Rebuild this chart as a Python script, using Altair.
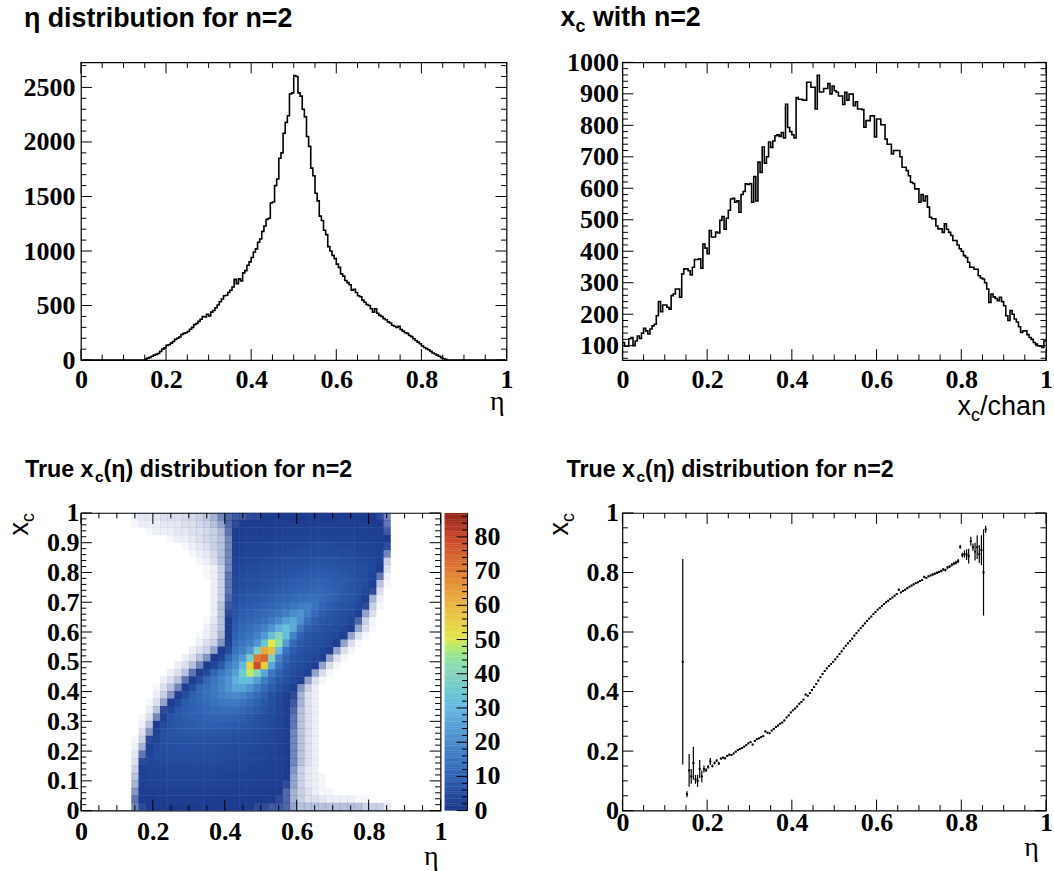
import math
import altair as alt
import pandas as pd

# ---------------------------------------------------------------- data
BIN = 0.005  # histogram bin width (eta and x_c)

# eta histogram: counts per bin, first non-empty bin starts at 0.150
eta_first_edge = 0.150
eta_counts = [8, 18, 25, 35, 45, 52, 60, 80, 100, 112,
              135, 140, 155, 170, 190, 200, 212, 235, 245, 250,
              262, 282, 300, 325, 335, 355, 375, 400, 395, 420,
              405, 440, 455, 480, 505, 535, 560, 590, 595, 620,
              640, 670, 740, 700, 745, 725, 800, 820, 870, 900,
              940, 990, 1020, 1080, 1110, 1180, 1230, 1290, 1300, 1440,
              1450, 1600, 1660, 1850, 1900, 2080, 2180, 2240, 2440, 2450,
              2610, 2600, 2450, 2420, 2300, 2230, 2050, 1960, 1760, 1690,
              1530, 1460, 1320, 1280, 1190, 1150, 1040, 1000, 960, 930,
              880, 850, 790, 770, 730, 710, 690, 640, 650, 620,
              590, 580, 550, 530, 510, 500, 470, 440, 470, 430,
              410, 400, 380, 370, 350, 340, 320, 310, 300, 310,
              280, 265, 250, 245, 225, 215, 195, 180, 165, 150,
              130, 115, 105, 95, 80, 65, 55, 45, 35, 22,
              12, 6]

# x_c histogram: 200 bins from 0 to 1
xc_counts = [110, 98, 98, 122, 126, 100, 115, 131, 123, 140,
             155, 147, 137, 153, 163, 168, 195, 240, 208, 229,
             229, 222, 216, 259, 264, 280, 280, 254, 328, 344,
             344, 338, 325, 349, 374, 374, 376, 346, 423, 410,
             392, 466, 445, 445, 461, 458, 498, 510, 470, 505,
             530, 566, 568, 556, 560, 524, 580, 590, 614, 612,
             615, 556, 637, 560, 683, 650, 731, 680, 700, 747,
             730, 750, 767, 770, 765, 777, 760, 867, 793, 780,
             770, 760, 888, 883, 883, 880, 880, 937, 937, 921,
             921, 852, 959, 906, 906, 917, 917, 933, 900, 925,
             910, 905, 893, 893, 866, 905, 880, 899, 899, 862,
             875, 852, 852, 850, 794, 815, 815, 830, 830, 763,
             820, 820, 802, 802, 756, 740, 740, 709, 720, 720,
             720, 700, 667, 667, 656, 640, 619, 615, 598, 598,
             556, 580, 560, 575, 540, 508, 503, 503, 480, 471,
             471, 460, 487, 470, 460, 450, 434, 434, 420, 408,
             400, 386, 380, 365, 349, 349, 343, 343, 322, 315,
             312, 300, 280, 237, 264, 255, 250, 243, 254, 240,
             227, 195, 180, 212, 200, 185, 175, 160, 142, 147,
             147, 135, 126, 120, 110, 105, 100, 98, 94, 115]

# profile <x_c>(eta): bin centres start at 0.1425, one per eta bin
prof_first_center = 0.1425
prof_mean = [0.50, None, 0.055, 0.135, 0.115, 0.160, 0.105, 0.100, 0.140, 0.115,
             0.140, 0.136, 0.147, 0.165, 0.150, 0.160, 0.168, 0.158, 0.175, 0.178,
             0.176, 0.184, 0.188, 0.187, 0.192, 0.198, 0.203, 0.207, 0.210, 0.215,
             0.220, 0.226, 0.230, 0.222, 0.234, 0.240, 0.243, 0.247, 0.250, 0.266,
             0.262, 0.260, 0.269, 0.275, 0.281, 0.286, 0.292, 0.296, 0.303, 0.313,
             0.320, 0.330, 0.337, 0.343, 0.350, 0.359, 0.365, 0.373, 0.390, 0.386,
             0.395, 0.405, 0.415, 0.425, 0.437, 0.448, 0.459, 0.469, 0.478, 0.486,
             0.493, 0.500, 0.508, 0.517, 0.526, 0.535, 0.545, 0.554, 0.562, 0.570,
             0.578, 0.588, 0.596, 0.605, 0.613, 0.621, 0.629, 0.637, 0.645, 0.652,
             0.660, 0.667, 0.675, 0.681, 0.688, 0.694, 0.700, 0.705, 0.711, 0.716,
             0.722, 0.728, 0.742, 0.733, 0.738, 0.742, 0.747, 0.752, 0.756, 0.760,
             0.764, 0.767, 0.771, 0.775, 0.785, 0.782, 0.787, 0.790, 0.793, 0.796,
             0.799, 0.802, 0.805, 0.810, 0.808, 0.817, 0.820, 0.826, 0.830, 0.833,
             0.838, 0.886, 0.858, 0.862, 0.860, 0.855, 0.905, 0.885, 0.870, 0.885,
             0.862, 0.875, 0.800, 0.945]
prof_err = [0.345, None, 0.010, 0.055, 0.025, 0.055, 0.015, 0.020, 0.030, 0.020,
            0.012, 0.006, 0.006, 0.012, 0.005, 0.005, 0.005, 0.005, 0.004, 0.004,
            0.004, 0.004, 0.004, 0.003, 0.003, 0.003, 0.003, 0.003, 0.003, 0.003,
            0.003, 0.003, 0.003, 0.003, 0.003, 0.003, 0.003, 0.003, 0.003, 0.003,
            0.003, 0.003, 0.003, 0.003, 0.003, 0.003, 0.003, 0.003, 0.003, 0.003,
            0.003, 0.003, 0.003, 0.003, 0.003, 0.003, 0.003, 0.003, 0.003, 0.003,
            0.003, 0.003, 0.003, 0.003, 0.003, 0.003, 0.003, 0.003, 0.003, 0.003,
            0.003, 0.003, 0.003, 0.003, 0.003, 0.003, 0.003, 0.003, 0.003, 0.003,
            0.003, 0.003, 0.003, 0.003, 0.003, 0.003, 0.003, 0.003, 0.003, 0.003,
            0.003, 0.003, 0.003, 0.003, 0.003, 0.003, 0.003, 0.003, 0.003, 0.003,
            0.003, 0.003, 0.004, 0.003, 0.003, 0.003, 0.003, 0.003, 0.003, 0.003,
            0.003, 0.003, 0.003, 0.003, 0.004, 0.003, 0.003, 0.003, 0.004, 0.004,
            0.004, 0.004, 0.004, 0.005, 0.005, 0.005, 0.005, 0.006, 0.006, 0.006,
            0.007, 0.006, 0.008, 0.012, 0.018, 0.025, 0.015, 0.012, 0.030, 0.040,
            0.030, 0.050, 0.145, 0.012]

# 2-D histogram x_c(eta): mean content per fine cell, coarse cells
heat_eta0 = 0.14
heat_eta_step = 0.02
heat_xc_step = 0.025
heat_rows = [  # bottom (x_c ~ 0) to top (x_c ~ 1); columns eta 0.14 .. 0.86
    [0.8,1.2,1.3,1.3,1.4,1.4,1.4,1.4,1.4,1.4, 1.4,1.4,1.4,1.3,1.3,1.3,1.3,1.2,1.2,1.1, 1.1,1.0,0.6,0.4,0.4,0.4,0.4,0.4,0.4,0.4, 0.4,0.4,0.3,0.3,0.3,0.15],
    [0.9,1.5,1.6,1.6,1.7,1.7,1.7,1.7,1.7,1.7, 1.6,1.6,1.6,1.5,1.5,1.5,1.4,1.4,1.3,1.3, 1.2,1.0,0.5,0.3,0.2,0.2,0.15,0.1,0.1,0.1, 0.1,0.05,0.05,0,0,0],
    [0.7,1.7,1.8,1.9,1.9,2.0,2.0,2.0,2.0,2.0, 1.9,1.9,1.9,1.8,1.8,1.7,1.7,1.6,1.5,1.4, 1.3,1.0,0.5,0.3,0.2,0.1,0.05,0.05,0,0, 0,0,0,0,0,0],
    [0.5,2.2,2.6,2.8,2.9,3.0,3.0,3.0,3.0,2.9, 2.9,2.8,2.7,2.6,2.5,2.4,2.3,2.2,2.1,1.9, 1.7,1.2,0.6,0.3,0.15,0.1,0.05,0,0,0, 0,0,0,0,0,0],
    [0.4,2.4,2.9,3.1,3.2,3.3,3.3,3.3,3.3,3.2, 3.2,3.1,3.0,2.9,2.8,2.7,2.6,2.5,2.3,2.1, 1.8,1.3,0.6,0.3,0.15,0.1,0.05,0,0,0, 0,0,0,0,0,0],
    [0.3,2.3,3.2,3.5,3.7,3.8,3.8,3.8,3.8,3.7, 3.6,3.5,3.4,3.3,3.2,3.1,3.0,2.8,2.6,2.3, 2.0,1.4,0.7,0.3,0.15,0.1,0,0,0,0, 0,0,0,0,0,0],
    [0.2,1.2,3.4,4.1,4.4,4.6,4.7,4.7,4.7,4.6, 4.5,4.4,4.3,4.1,3.9,3.7,3.5,3.3,3.0,2.7, 2.3,1.5,0.8,0.4,0.2,0.1,0,0,0,0, 0,0,0,0,0,0],
    [0.15,0.9,3.2,4.5,4.9,5.1,5.2,5.2,5.2,5.1, 5.0,4.9,4.7,4.5,4.3,4.1,3.9,3.6,3.3,2.9, 2.5,1.6,0.8,0.4,0.2,0.1,0,0,0,0, 0,0,0,0,0,0],
    [0.1,0.5,2.2,4.6,5.3,5.6,5.8,5.9,5.9,5.8, 5.7,5.5,5.3,5.1,4.8,4.5,4.2,3.9,3.6,3.1, 2.6,1.6,0.8,0.4,0.2,0.1,0,0,0,0, 0,0,0,0,0,0],
    [0.05,0.3,1.2,3.6,5.6,6.1,6.4,6.5,6.6,6.6, 6.5,6.3,6.1,5.8,5.5,5.1,4.7,4.3,3.9,3.3, 2.7,1.6,0.8,0.4,0.2,0.1,0,0,0,0, 0,0,0,0,0,0],
    [0,0.2,0.7,2.6,5.6,6.6,7.1,7.3,7.5,7.6, 7.6,7.5,7.2,6.9,6.5,6.0,5.5,5.0,4.4,3.7, 2.9,1.7,0.8,0.4,0.2,0.1,0,0,0,0, 0,0,0,0,0,0],
    [0,0.1,0.4,1.4,4.2,6.8,7.6,8.0,8.3,8.6, 8.8,8.9,8.8,8.5,8.0,7.3,6.6,5.8,5.0,4.1, 3.1,1.8,0.9,0.4,0.2,0.1,0,0,0,0, 0,0,0,0,0,0],
    [0,0.05,0.2,0.8,2.8,6.2,7.8,8.4,8.9,9.4, 9.9,10.3,10.4,10.1,9.5,8.6,7.6,6.6,5.5,4.4, 3.2,1.9,0.9,0.4,0.2,0.1,0,0,0,0, 0,0,0,0,0,0],
    [0,0,0.1,0.4,1.2,3.8,7.4,8.6,9.4,10.2, 11.0,11.8,12.5,12.8,12.3,11.1,9.6,8.0,6.5,5.0, 3.5,2.0,1.0,0.4,0.2,0.1,0,0,0,0, 0,0,0,0,0,0],
    [0,0,0.05,0.2,0.6,1.6,4.6,8.4,9.6,10.8, 12.0,13.3,14.8,15.8,15.6,14.2,12.1,9.8,7.6,5.6, 3.9,2.2,1.1,0.5,0.2,0.1,0,0,0,0, 0,0,0,0,0,0],
    [0,0,0,0.1,0.3,0.7,1.8,5.0,9.4,11.2, 13.0,15.0,17.2,19.2,19.8,18.2,15.2,11.9,8.9,6.3, 4.3,2.5,1.2,0.5,0.2,0.1,0,0,0,0, 0,0,0,0,0,0],
    [0,0,0,0.05,0.2,0.4,0.8,2.0,5.5,10.8, 13.0,15.5,18.5,22.0,25.5,25.5,21.5,16.5,12.0,8.5, 6.0,4.2,2.2,0.7,0.3,0.1,0,0,0,0, 0,0,0,0,0,0],
    [0,0,0,0,0.1,0.2,0.4,0.9,2.2,5.2, 11.0,14.6,17.8,22.0,28.0,33.0,31.5,24.5,16.5,11.0, 7.5,5.5,4.0,2.0,0.6,0.2,0.05,0,0,0, 0,0,0,0,0,0],
    [0,0,0,0,0,0.1,0.2,0.4,0.9,2.0, 4.5,10.5,15.5,19.5,25.0,36.0,48.0,41.0,26.0,15.0, 9.5,6.8,5.2,3.8,2.2,0.6,0.2,0.05,0,0, 0,0,0,0,0,0],
    [0,0,0,0,0,0,0.1,0.2,0.4,0.8, 1.6,3.6,8.0,16.0,21.0,30.0,54.0,78.0,56.0,26.0, 14.0,8.5,6.2,5.0,3.8,2.0,0.6,0.2,0.05,0, 0,0,0,0,0,0],
    [0,0,0,0,0,0,0,0.1,0.2,0.4, 0.7,1.4,3.2,11.0,17.5,23.0,37.0,70.0,74.0,39.0, 18.0,10.0,7.0,5.5,4.6,3.8,2.0,0.6,0.2,0.05, 0,0,0,0,0,0],
    [0,0,0,0,0,0,0,0,0.1,0.2, 0.3,0.6,1.4,5.0,14.0,17.0,22.0,38.0,62.0,58.0, 30.0,14.0,8.5,6.5,5.2,4.5,3.8,2.0,0.6,0.2, 0.05,0,0,0,0,0],
    [0,0,0,0,0,0,0,0,0,0.1, 0.2,0.3,0.7,2.4,11.5,14.5,17.0,22.0,34.0,50.0, 44.0,24.0,12.0,8.0,6.2,5.2,4.6,3.8,2.0,0.6, 0.2,0.05,0,0,0,0],
    [0,0,0,0,0,0,0,0,0,0.05, 0.1,0.2,0.5,1.8,10.0,12.5,14.5,17.5,23.0,32.0, 40.0,33.0,18.0,10.0,7.2,6.0,5.2,4.6,3.8,2.0, 0.6,0.2,0.05,0,0,0],
    [0,0,0,0,0,0,0,0,0,0, 0.1,0.2,0.4,1.5,8.8,11.0,12.8,14.8,17.5,22.0, 28.0,33.0,27.0,15.0,9.5,7.6,6.6,5.8,5.0,4.0, 2.0,0.6,0.2,0.05,0,0],
    [0,0,0,0,0,0,0,0,0,0, 0.05,0.15,0.4,1.3,7.8,9.5,10.8,12.0,13.5,16.0, 19.5,24.0,27.0,21.0,13.0,9.0,7.5,6.6,5.8,5.0, 3.6,1.0,0.3,0.05,0,0],
    [0,0,0,0,0,0,0,0,0,0, 0,0.1,0.4,1.2,7.0,8.4,9.4,10.4,11.5,12.8, 14.5,17.0,20.0,22.0,17.0,11.5,8.8,7.6,6.6,5.8, 4.8,2.6,0.6,0.2,0,0],
    [0,0,0,0,0,0,0,0,0,0, 0,0.1,0.4,1.1,6.2,7.4,8.2,9.0,9.8,10.8, 11.8,13.0,14.5,16.0,17.0,14.0,10.5,8.8,7.6,6.6, 5.6,4.0,1.2,0.3,0.05,0],
    [0,0,0,0,0,0,0,0,0,0, 0,0.1,0.3,1.0,5.4,6.4,7.2,7.8,8.5,9.2, 10.0,10.8,11.6,12.4,13.0,13.0,12.0,10.4,9.0,7.6, 6.4,5.0,2.4,0.5,0.1,0],
    [0,0,0,0,0,0,0,0,0,0, 0,0.1,0.3,0.9,4.8,5.6,6.2,6.8,7.4,8.0, 8.6,9.2,9.8,10.4,11.0,11.2,11.0,10.2,9.2,8.0, 6.8,5.6,4.0,1.2,0.2,0],
    [0,0,0,0,0,0,0,0,0,0, 0,0.1,0.3,0.9,4.2,5.0,5.5,6.0,6.5,7.0, 7.5,8.0,8.5,9.0,9.5,9.8,9.8,9.4,8.8,8.0, 7.0,6.0,4.8,2.4,0.4,0.05],
    [0,0,0,0,0,0,0,0,0,0, 0.05,0.1,0.3,0.9,3.8,4.5,5.0,5.4,5.8,6.2, 6.6,7.0,7.4,7.8,8.2,8.5,8.6,8.4,8.0,7.4, 6.6,5.8,5.0,3.6,0.9,0.1],
    [0,0,0,0,0,0,0,0,0,0, 0.05,0.1,0.3,0.8,3.4,4.0,4.4,4.8,5.2,5.6, 6.0,6.3,6.6,6.9,7.2,7.4,7.5,7.4,7.1,6.7, 6.1,5.5,4.8,4.0,1.6,0.2],
    [0,0,0,0,0,0,0,0,0,0.05, 0.1,0.2,0.4,0.8,3.0,3.5,3.8,4.1,4.4,4.7, 5.0,5.3,5.6,5.8,6.0,6.2,6.3,6.2,6.0,5.7, 5.3,4.8,4.3,3.8,2.4,0.3],
    [0,0,0,0,0,0,0,0,0.05,0.1, 0.15,0.25,0.4,0.8,2.6,3.0,3.2,3.4,3.6,3.9, 4.1,4.3,4.5,4.7,4.9,5.0,5.1,5.0,4.9,4.7, 4.4,4.1,3.7,3.3,2.8,0.8],
    [0,0,0,0,0,0,0,0.05,0.1,0.15, 0.2,0.3,0.4,0.8,2.2,2.5,2.7,2.9,3.1,3.3, 3.5,3.7,3.8,4.0,4.1,4.2,4.2,4.2,4.1,4.0, 3.8,3.5,3.2,2.9,2.5,1.2],
    [0,0,0,0,0,0.05,0.1,0.1,0.15,0.2, 0.25,0.3,0.4,0.8,1.9,2.1,2.3,2.5,2.6,2.8, 2.9,3.0,3.2,3.3,3.4,3.5,3.5,3.5,3.4,3.3, 3.2,3.0,2.8,2.5,2.2,1.3],
    [0,0,0.05,0.1,0.1,0.1,0.15,0.15,0.2,0.2, 0.25,0.3,0.45,0.9,1.5,1.7,1.8,1.9,2.0,2.1, 2.2,2.3,2.4,2.5,2.6,2.6,2.7,2.7,2.6,2.6, 2.5,2.4,2.2,2.0,1.8,1.1],
    [0.05,0.1,0.1,0.1,0.15,0.15,0.15,0.2,0.2,0.25, 0.3,0.4,0.6,1.0,1.2,1.3,1.4,1.5,1.6,1.6, 1.7,1.8,1.8,1.9,1.9,2.0,2.0,2.0,2.0,1.9, 1.9,1.8,1.7,1.6,1.4,0.9],
    [0.1,0.15,0.15,0.15,0.2,0.2,0.2,0.25,0.25,0.3, 0.35,0.5,0.8,1.0,1.1,1.1,1.2,1.2,1.3,1.3, 1.4,1.4,1.5,1.5,1.5,1.6,1.6,1.6,1.6,1.5, 1.5,1.5,1.4,1.3,1.2,0.8],
]

# palette of the colour bar
pal_stops = [0, 10, 20, 30, 40, 50, 60, 70, 80, 87]
pal_colors = ["#1a368a", "#3063b3", "#4b8bcb", "#68b7e0", "#8dd3bd",
              "#e0e84c", "#e8b543", "#de7a34", "#c6442a", "#8c2418"]
cbar_max = 87
cbar_labels = [0, 10, 20, 30, 40, 50, 60, 70, 80]

# ---------------------------------------------------------------- layout / style
W1, W2, W3, W4, H = 426, 424, 360, 424, 298
CB0, CB1 = 4, 27          # colour bar: pixel offsets right of panel 3
MAJ, MIN = 11, 5.5
SANS = "Liberation Sans"
SERIF = "Liberation Serif"
LBL = 26
ONE = pd.DataFrame({"a": [0]})


def tick_values(lo, hi, step):
    k0 = math.ceil(lo / step - 1e-9)
    k1 = math.floor(hi / step + 1e-9)
    return [round(k * step, 6) for k in range(k0, k1 + 1)]


def is_mult(v, step):
    r = v / step
    return abs(r - round(r)) < 1e-6


def axis(values, pad):
    return alt.Axis(values=values, format="~f", labelFont=SERIF, labelFontWeight="bold",
                    labelFontSize=LBL, labelColor="black", labelPadding=pad, ticks=False,
                    tickSize=0, domain=False, grid=False, title=None, labelFlush=False,
                    labelOverlap=False)


def ticks(xsc, ysc, xax, yax, xdom, ydom, xmaj, xmin, ymaj, ymin, W, Hh):
    out = []
    xs = tick_values(xdom[0], xdom[1], xmin)
    for major in (True, False):
        vals = [v for v in xs if is_mult(v, xmaj) == major]
        L = MAJ if major else MIN
        df = pd.DataFrame({"t": vals})
        ex = alt.X("t:Q", scale=xsc, axis=xax)
        out.append(alt.Chart(df).mark_rule(color="black", strokeWidth=1)
                   .encode(x=ex, y=alt.value(Hh), y2=alt.value(Hh - L)))
        out.append(alt.Chart(df).mark_rule(color="black", strokeWidth=1)
                   .encode(x=ex, y=alt.value(0), y2=alt.value(L)))
    ys = tick_values(ydom[0], ydom[1], ymin)
    for major in (True, False):
        vals = [v for v in ys if is_mult(v, ymaj) == major]
        L = MAJ if major else MIN
        df = pd.DataFrame({"t": vals})
        ey = alt.Y("t:Q", scale=ysc, axis=yax)
        out.append(alt.Chart(df).mark_rule(color="black", strokeWidth=1)
                   .encode(y=ey, x=alt.value(0), x2=alt.value(L)))
        out.append(alt.Chart(df).mark_rule(color="black", strokeWidth=1)
                   .encode(y=ey, x=alt.value(W), x2=alt.value(W - L)))
    return out


def txt(s, x, y, size, font=SANS, weight="bold", align="left", angle=0):
    kw = dict(text=s, font=font, fontSize=size, fontWeight=weight, align=align,
              baseline="alphabetic", color="black")
    if angle:
        kw["angle"] = angle
    return alt.Chart(ONE).mark_text(**kw).encode(x=alt.value(x), y=alt.value(y))


X_LABELS = [0, 0.2, 0.4, 0.6, 0.8, 1]

# ---------------------------------------------------------------- panel 1
n_bins = 200
i0 = int(round(eta_first_edge / BIN))
eta_full = [0] * n_bins
for k, c in enumerate(eta_counts):
    eta_full[i0 + k] = c
h1 = pd.DataFrame({"x": [round(i * BIN, 4) for i in range(n_bins)] + [1.0],
                   "y": eta_full + [eta_full[-1]]})
x1d, y1d = [0, 1], [0, 2730]
xs1 = alt.Scale(domain=x1d, nice=False, zero=False)
ys1 = alt.Scale(domain=y1d, nice=False, zero=False)
xa1 = axis(X_LABELS, 6)
ya1 = axis([0, 500, 1000, 1500, 2000, 2500], 6)
p1 = alt.layer(
    alt.Chart(h1).mark_line(interpolate="step-after", color="black", strokeWidth=1.6)
    .encode(x=alt.X("x:Q", scale=xs1, axis=xa1), y=alt.Y("y:Q", scale=ys1, axis=ya1)),
    *ticks(xs1, ys1, xa1, ya1, x1d, y1d, 0.2, 0.05, 500, 100, W1, H),
    txt("η distribution for n=2", -57, -35, 26.8),
    txt("η", W1 - 2, 348, 28, font=SERIF, weight="normal", align="right"),
    alt.Chart(ONE).mark_point(opacity=0, size=1).encode(x=alt.value(-79), y=alt.value(-60)),
).properties(width=W1, height=H)

# ---------------------------------------------------------------- panel 2
h2 = pd.DataFrame({"x": [round(i * BIN, 4) for i in range(n_bins)] + [1.0],
                   "y": xc_counts + [xc_counts[-1]]})
x2d, y2d = [0, 1], [54.3, 1000]
xs2 = alt.Scale(domain=x2d, nice=False, zero=False)
ys2 = alt.Scale(domain=y2d, nice=False, zero=False)
xa2 = axis(X_LABELS, 6)
ya2 = axis(list(range(100, 1001, 100)), 4)
p2 = alt.layer(
    alt.Chart(h2).mark_line(interpolate="step-after", color="black", strokeWidth=1.6)
    .encode(x=alt.X("x:Q", scale=xs2, axis=xa2), y=alt.Y("y:Q", scale=ys2, axis=ya2)),
    *ticks(xs2, ys2, xa2, ya2, x2d, y2d, 0.2, 0.05, 100, 20, W2, H),
    txt("x", -62, -36, 26.8),
    txt("c", -47, -30, 18),
    txt("with n=2", -29.5, -36, 26.8),
    txt("/chan", W2, 353, 27, weight="normal", align="right"),
    txt("c", W2 - 66, 359, 18, weight="normal", align="right"),
    txt("x", W2 - 75, 353, 27, weight="normal", align="right"),
).properties(width=W2, height=H)

# ---------------------------------------------------------------- panel 3 (2-D) + colour bar
cells = []
for j, row in enumerate(heat_rows):
    for i, v in enumerate(row):
        if v > 0:
            e0 = heat_eta0 + i * heat_eta_step
            y0 = j * heat_xc_step
            cells.append({"x0": round(e0, 4), "x1": round(e0 + heat_eta_step + 0.0015, 4),
                          "y0": round(y0, 4), "y1": round(min(1.0, y0 + heat_xc_step + 0.0015), 4),
                          "v": v, "op": min(1.0, v / 1.3)})
hm = pd.DataFrame(cells)
x3d, y3d = [0, 1], [0, 1]
xs3 = alt.Scale(domain=x3d, nice=False, zero=False)
ys3 = alt.Scale(domain=y3d, nice=False, zero=False)
cs = alt.Scale(domain=pal_stops, range=pal_colors, type="linear", clamp=True)
xa3 = axis(X_LABELS, 8)
ya3 = axis([round(0.1 * k, 1) for k in range(11)], 2)

lev = [round(0.5 * k, 2) for k in range(int(cbar_max / 0.5))]
cbd = pd.DataFrame({"v": lev,
                    "f0": [l / cbar_max for l in lev],
                    "f1": [min(1.0, (l + 0.6) / cbar_max) for l in lev]})
cb_ticks_major = pd.DataFrame({"f": [t / cbar_max for t in cbar_labels]})
cb_ticks_minor = pd.DataFrame({"f": [t / cbar_max for t in range(0, cbar_max, 2) if t % 10]})
cb_lab = pd.DataFrame({"f": [t / cbar_max for t in cbar_labels],
                       "s": [str(t) for t in cbar_labels]})

p3 = alt.layer(
    alt.Chart(hm).mark_rect(strokeWidth=0).encode(
        x=alt.X("x0:Q", scale=xs3, axis=xa3), x2="x1:Q",
        y=alt.Y("y0:Q", scale=ys3, axis=ya3), y2="y1:Q",
        color=alt.Color("v:Q", scale=cs, legend=None),
        opacity=alt.Opacity("op:Q", scale=None)),
    *ticks(xs3, ys3, xa3, ya3, x3d, y3d, 0.2, 0.05, 0.1, 0.02, W3, H),
    # colour bar
    alt.Chart(cbd).mark_rect(strokeWidth=0).encode(
        y=alt.Y("f0:Q", scale=ys3, axis=ya3), y2="f1:Q",
        x=alt.value(W3 + CB0), x2=alt.value(W3 + CB1),
        color=alt.Color("v:Q", scale=cs, legend=None)),
    alt.Chart(cb_ticks_major).mark_rule(color="black", strokeWidth=1).encode(
        y=alt.Y("f:Q", scale=ys3, axis=ya3),
        x=alt.value(W3 + CB1), x2=alt.value(W3 + CB1 - MAJ)),
    alt.Chart(cb_ticks_minor).mark_rule(color="black", strokeWidth=1).encode(
        y=alt.Y("f:Q", scale=ys3, axis=ya3),
        x=alt.value(W3 + CB1), x2=alt.value(W3 + CB1 - MIN)),
    alt.Chart(ONE).mark_rule(color="black", strokeWidth=1).encode(
        x=alt.value(W3 + CB1), y=alt.value(0), y2=alt.value(H)),
    alt.Chart(cb_lab).mark_text(font=SERIF, fontWeight="bold", fontSize=LBL, align="left",
                                baseline="middle", color="black").encode(
        y=alt.Y("f:Q", scale=ys3, axis=ya3), x=alt.value(W3 + CB1 + 7), text="s:N"),
    # titles
    txt("True x", -56, -36, 23.3),
    txt("c", 14, -31, 15.5),
    txt("(η) distribution for n=2", 22.6, -36, 23.3),
    txt("η", W3 - 2, 352, 28, font=SERIF, weight="normal", align="right"),
    txt("c", -47, 0, 18, weight="normal", align="right", angle=270),
    txt("x", -53, 9, 27, weight="normal", align="right", angle=270),
).properties(width=W3, height=H)

# ---------------------------------------------------------------- panel 4 (profile)
pc, pm, plo, phi, pxl, pxh = [], [], [], [], [], []
for k, (m, e) in enumerate(zip(prof_mean, prof_err)):
    if m is None:
        continue
    c = prof_first_center + k * BIN
    pc.append(round(c, 5)); pm.append(m)
    plo.append(m - e); phi.append(m + e)
    pxl.append(round(c - BIN / 2, 5)); pxh.append(round(c + BIN / 2, 5))
pf = pd.DataFrame({"c": pc, "m": pm, "lo": plo, "hi": phi, "xl": pxl, "xh": pxh})
x4d, y4d = [0, 1], [0, 1]
xs4 = alt.Scale(domain=x4d, nice=False, zero=False)
ys4 = alt.Scale(domain=y4d, nice=False, zero=False)
xa4 = axis(X_LABELS, -1)
ya4 = axis([0, 0.2, 0.4, 0.6, 0.8, 1], 4)
p4 = alt.layer(
    alt.Chart(pf).mark_rule(color="black", strokeWidth=1.2).encode(
        x=alt.X("c:Q", scale=xs4, axis=xa4),
        y=alt.Y("lo:Q", scale=ys4, axis=ya4), y2="hi:Q"),
    alt.Chart(pf).mark_rule(color="black", strokeWidth=1.8).encode(
        x=alt.X("xl:Q", scale=xs4, axis=xa4), x2="xh:Q",
        y=alt.Y("m:Q", scale=ys4, axis=ya4)),
    *ticks(xs4, ys4, xa4, ya4, x4d, y4d, 0.2, 0.05, 0.2, 0.05, W4, H),
    txt("True x", -56, -36, 23.3),
    txt("c", 14, -31, 15.5),
    txt("(η) distribution for n=2", 22.6, -36, 23.3),
    txt("η", W4 - 7, 343, 28, font=SERIF, weight="normal", align="right"),
    txt("c", -48, 0, 18, weight="normal", align="right", angle=270),
    txt("x", -54, 9, 27, weight="normal", align="right", angle=270),
).properties(width=W4, height=H)

# ---------------------------------------------------------------- assemble
chart = (alt.concat(p1, p2, p3, p4, columns=2, bounds="flush",
                    spacing={"row": 153, "column": 116})
         .properties(padding=0, background="white")
         .configure_view(stroke="black", strokeWidth=1.2))

chart.save("out.html", embed_options={"renderer": "svg", "actions": False})
